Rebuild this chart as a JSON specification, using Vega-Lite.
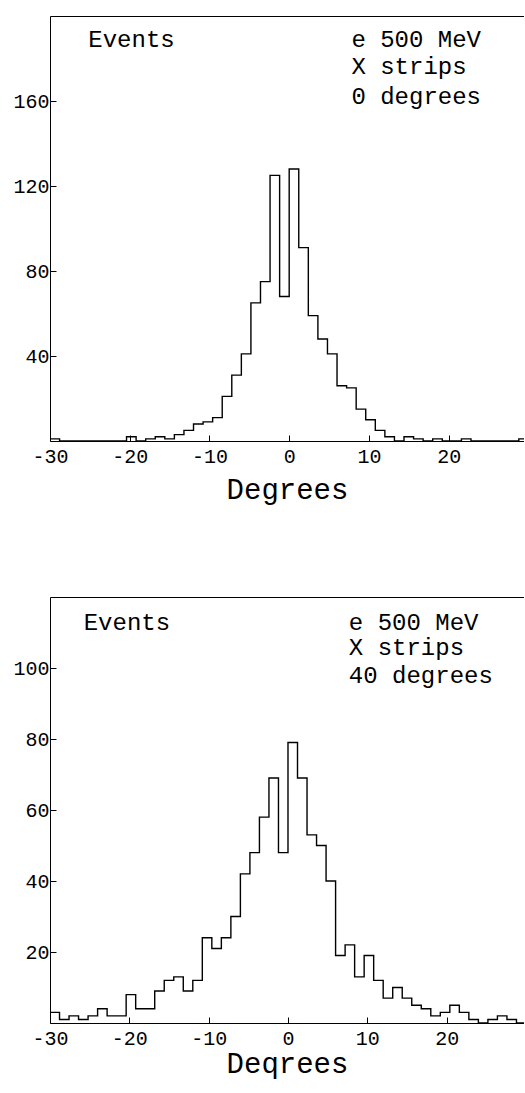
{
  "$schema": "https://vega.github.io/schema/vega-lite/v6.json",
  "padding": {"left": 12, "top": 16, "right": 0, "bottom": 7},
  "background": "white",
  "spacing": 156,
  "bounds": "flush",
  "config": {
    "view": {"stroke": null},
    "font": "Liberation Mono",
    "axis": {
      "domainColor": "black", "tickColor": "black", "labelColor": "black", "titleColor": "black",
      "labelFont": "Liberation Mono", "titleFont": "Liberation Mono",
      "labelFontSize": 20, "titleFontSize": 29, "titleFontWeight": "normal",
      "grid": false, "tickSize": -6, "domainWidth": 1, "tickWidth": 1,
      "labelFlush": false, "labelOverlap": false,
      "labelExpr": "'' + datum.value"
    },
    "axisX": {"labelPadding": 11},
    "axisY": {"labelPadding": 7}
  },
  "datasets": {
    "top": [
      {"x": -30, "n": 1}, {"x": -28.8, "n": 0}, {"x": -27.6, "n": 0}, {"x": -26.4, "n": 0},
      {"x": -25.2, "n": 0}, {"x": -24, "n": 0}, {"x": -22.8, "n": 0}, {"x": -21.6, "n": 0},
      {"x": -20.4, "n": 2}, {"x": -19.2, "n": 0}, {"x": -18, "n": 1}, {"x": -16.8, "n": 2},
      {"x": -15.6, "n": 1}, {"x": -14.4, "n": 3}, {"x": -13.2, "n": 5}, {"x": -12, "n": 8},
      {"x": -10.8, "n": 9}, {"x": -9.6, "n": 11}, {"x": -8.4, "n": 21}, {"x": -7.2, "n": 31},
      {"x": -6, "n": 41}, {"x": -4.8, "n": 65}, {"x": -3.6, "n": 75}, {"x": -2.4, "n": 125},
      {"x": -1.2, "n": 68}, {"x": 0, "n": 128}, {"x": 1.2, "n": 91}, {"x": 2.4, "n": 59},
      {"x": 3.6, "n": 48}, {"x": 4.8, "n": 41}, {"x": 6, "n": 26}, {"x": 7.2, "n": 25},
      {"x": 8.4, "n": 15}, {"x": 9.6, "n": 10}, {"x": 10.8, "n": 5}, {"x": 12, "n": 2},
      {"x": 13.2, "n": 0}, {"x": 14.4, "n": 2}, {"x": 15.6, "n": 1}, {"x": 16.8, "n": 0},
      {"x": 18, "n": 1}, {"x": 19.2, "n": 0}, {"x": 20.4, "n": 0}, {"x": 21.6, "n": 1},
      {"x": 22.8, "n": 0}, {"x": 24, "n": 0}, {"x": 25.2, "n": 0}, {"x": 26.4, "n": 0},
      {"x": 27.6, "n": 0}, {"x": 28.8, "n": 1}, {"x": 30, "n": 1}
    ],
    "bot": [
      {"x": -30, "n": 3}, {"x": -28.8, "n": 1}, {"x": -27.6, "n": 2}, {"x": -26.4, "n": 1},
      {"x": -25.2, "n": 2}, {"x": -24, "n": 4}, {"x": -22.8, "n": 2}, {"x": -21.6, "n": 2},
      {"x": -20.4, "n": 8}, {"x": -19.2, "n": 4}, {"x": -18, "n": 4}, {"x": -16.8, "n": 9},
      {"x": -15.6, "n": 12}, {"x": -14.4, "n": 13}, {"x": -13.2, "n": 9}, {"x": -12, "n": 12},
      {"x": -10.8, "n": 24}, {"x": -9.6, "n": 21}, {"x": -8.4, "n": 24}, {"x": -7.2, "n": 30},
      {"x": -6, "n": 42}, {"x": -4.8, "n": 48}, {"x": -3.6, "n": 58}, {"x": -2.4, "n": 69},
      {"x": -1.2, "n": 48}, {"x": 0, "n": 79}, {"x": 1.2, "n": 69}, {"x": 2.4, "n": 53},
      {"x": 3.6, "n": 50}, {"x": 4.8, "n": 40}, {"x": 6, "n": 19}, {"x": 7.2, "n": 22},
      {"x": 8.4, "n": 13}, {"x": 9.6, "n": 19}, {"x": 10.8, "n": 12}, {"x": 12, "n": 7},
      {"x": 13.2, "n": 10}, {"x": 14.4, "n": 7}, {"x": 15.6, "n": 5}, {"x": 16.8, "n": 4},
      {"x": 18, "n": 2}, {"x": 19.2, "n": 3}, {"x": 20.4, "n": 5}, {"x": 21.6, "n": 3},
      {"x": 22.8, "n": 1}, {"x": 24, "n": 0}, {"x": 25.2, "n": 1}, {"x": 26.4, "n": 2},
      {"x": 27.6, "n": 1}, {"x": 28.8, "n": 0}, {"x": 30, "n": 0}
    ],
    "topText": [
      {"x": -25.2, "y": 185.6, "t": "Events"},
      {"x": 7.8, "y": 185.6, "t": "e 500 MeV"},
      {"x": 7.8, "y": 172.6, "t": "X strips"},
      {"x": 7.8, "y": 158.6, "t": "0 degrees"}
    ],
    "botText": [
      {"x": -25.75, "y": 110.7, "t": "Events"},
      {"x": 7.67, "y": 110.7, "t": "e 500 MeV"},
      {"x": 7.67, "y": 103.7, "t": "X strips"},
      {"x": 7.67, "y": 95.8, "t": "40 degrees"}
    ]
  },
  "vconcat": [
    {
      "width": 474,
      "height": 425,
      "resolve": {"axis": {"x": "independent"}},
      "layer": [
        {
          "data": {"name": "top"},
          "mark": {"type": "line", "interpolate": "step-after", "color": "black", "strokeWidth": 1.4, "clip": true},
          "encoding": {
            "x": {"field": "x", "type": "quantitative", "scale": {"domain": [-30, 29.45], "nice": false, "zero": false},
                  "axis": {"values": [-30, -20, -10, 0, 10, 20], "title": "Degrees", "titlePadding": 9}},
            "y": {"field": "n", "type": "quantitative", "scale": {"domain": [0, 200], "nice": false},
                  "axis": {"values": [40, 80, 120, 160], "title": null}}
          }
        },
        {
          "data": {"name": "topText"},
          "mark": {"type": "text", "align": "left", "baseline": "alphabetic", "fontSize": 24, "color": "black", "font": "Liberation Mono"},
          "encoding": {
            "x": {"field": "x", "type": "quantitative",
                  "axis": {"orient": "top", "labels": false, "ticks": false, "title": null, "domain": true, "values": []}},
            "y": {"field": "y", "type": "quantitative"},
            "text": {"field": "t"}
          }
        }
      ]
    },
    {
      "width": 474,
      "height": 426,
      "resolve": {"axis": {"x": "independent"}},
      "layer": [
        {
          "data": {"name": "bot"},
          "mark": {"type": "line", "interpolate": "step-after", "color": "black", "strokeWidth": 1.4, "clip": true},
          "encoding": {
            "x": {"field": "x", "type": "quantitative", "scale": {"domain": [-30, 29.75], "nice": false, "zero": false},
                  "axis": {"values": [-30, -20, -10, 0, 10, 20], "title": "Deqrees", "titlePadding": 1}},
            "y": {"field": "n", "type": "quantitative", "scale": {"domain": [0, 120], "nice": false},
                  "axis": {"values": [20, 40, 60, 80, 100], "title": null}}
          }
        },
        {
          "data": {"name": "botText"},
          "mark": {"type": "text", "align": "left", "baseline": "alphabetic", "fontSize": 24, "color": "black", "font": "Liberation Mono"},
          "encoding": {
            "x": {"field": "x", "type": "quantitative",
                  "axis": {"orient": "top", "labels": false, "ticks": false, "title": null, "domain": true, "values": []}},
            "y": {"field": "y", "type": "quantitative"},
            "text": {"field": "t"}
          }
        }
      ]
    }
  ]
}
